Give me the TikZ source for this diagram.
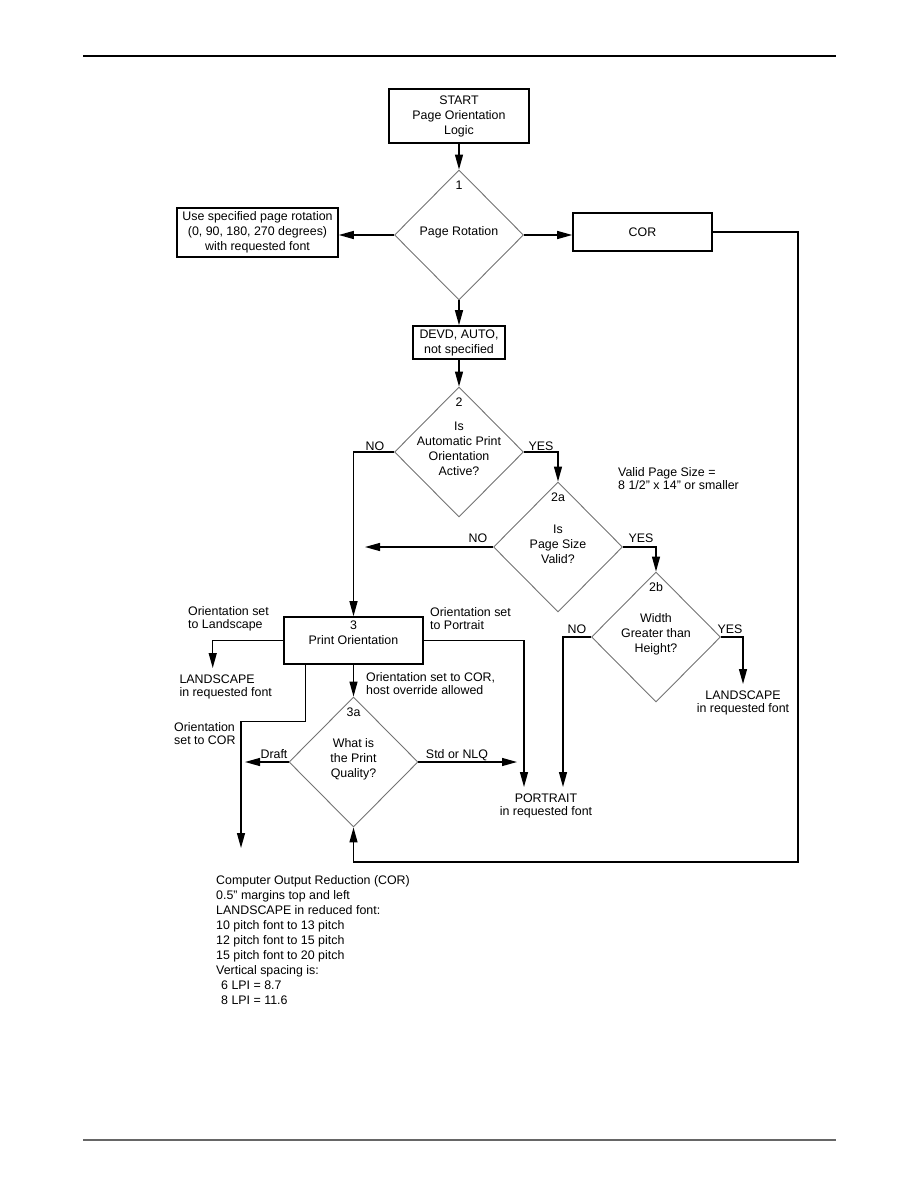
\documentclass[tikz,border=0pt]{standalone}
\usepackage{fontspec}
\setmainfont{Liberation Sans}
\usetikzlibrary{arrows.meta,positioning,shapes.geometric}

\begin{document}
\begin{tikzpicture}[
    x=1pt, y=1pt,
    font=\fontsize{12.4}{15}\selectfont,
    box/.style={draw, line width=1.6pt, align=center, inner sep=2pt},
    decision/.style={draw=black!55, line width=0.9pt, shape=diamond,
                     minimum width=129pt, minimum height=130pt, inner sep=0pt},
    dtext/.style={align=center, inner sep=1pt},
    lbl/.style={align=left, font=\fontsize{12.4}{13}\selectfont, inner sep=1pt},
    result/.style={align=center, font=\fontsize{12.4}{13}\selectfont,
                   inner ysep=7pt},
    arrow/.style={-{Triangle[length=15pt,width=8pt]}, line width=1.3pt}
  ]

  \useasboundingbox (0,0) rectangle (918,-1188);

  % page rules
  \draw[line width=1.6pt] (83,-56) -- (836,-56);
  \draw[line width=1.6pt, black!60] (83,-1140) -- (836,-1140);

  % boxes and decisions
  \node[box, minimum width=140pt, minimum height=54pt] (start) at (459,-116) {START\\Page Orientation\\Logic};
  \node[decision] (d1) at (459,-235) {};
  \node[box, minimum width=161pt, minimum height=49pt] (fixed) at (257.5,-232.5) {Use specified page rotation\\(0, 90, 180, 270 degrees)\\with requested font};
  \node[box, minimum width=139pt, minimum height=38pt] (cor) at (642.5,-232) {COR};
  \node[box, minimum width=92pt, minimum height=33pt] (devd) at (459,-342.5) {DEVD, AUTO,\\not specified};
  \node[decision] (d2) at (459,-452) {};
  \node[decision] (d2a) at (558,-547) {};
  \node[decision] (d2b) at (656,-637) {};
  \node[box, minimum width=139pt, minimum height=47pt] (po) at (353.5,-640.5) {};
  \node[decision] (d3a) at (353.5,-762) {};

  % texts inside
  \node[dtext] (n1) at ([yshift=-16pt]d1.north) {1};
  \node[dtext] (t1) at ([yshift=3pt]d1.center) {Page Rotation};
  \node[dtext] (n2) at ([yshift=-16pt]d2.north) {2};
  \node[dtext] (t2) at ([yshift=3pt]d2.center) {Is\\Automatic Print\\Orientation\\Active?};
  \node[dtext] (n2a) at ([yshift=-16pt]d2a.north) {2a};
  \node[dtext] (t2a) at ([yshift=3pt]d2a.center) {Is\\Page Size\\Valid?};
  \node[dtext] (n2b) at ([yshift=-16pt]d2b.north) {2b};
  \node[dtext] (t2b) at ([yshift=3pt]d2b.center) {Width\\Greater than\\Height?};
  \node[dtext] (n3a) at ([yshift=-16pt]d3a.north) {3a};
  \node[dtext] (t3a) at ([yshift=3pt]d3a.center) {What is\\the Print\\Quality?};
  \node[dtext] (tpo) at ([yshift=-17pt]po.north) {3\\Print Orientation};

  % outcomes
  \node[result, align=left, anchor=north west] (land1) at (176,-668) {LANDSCAPE\\in requested font};
  \node[result, anchor=north] (land2) at (743,-684) {LANDSCAPE\\in requested font};
  \node[result, anchor=north] (portrait) at (546,-787) {PORTRAIT\\in requested font};
  \node[lbl, anchor=north west, font=\fontsize{12.4}{15}\selectfont] (cornote) at (215,-874) {Computer Output Reduction (COR)\\0.5” margins top and left\\LANDSCAPE in reduced font:\\10 pitch font to 13 pitch\\12 pitch font to 15 pitch\\15 pitch font to 20 pitch\\Vertical spacing is:\\\hspace*{5pt}6 LPI = 8.7\\\hspace*{5pt}8 LPI = 11.6};

  % labels
  \node[lbl] (no2) at (375,-446) {NO};
  \node[lbl] (yes2) at (541,-446) {YES};
  \node[lbl] (no2a) at (478,-538) {NO};
  \node[lbl] (yes2a) at (641,-538) {YES};
  \node[lbl] (no2b) at (577,-629) {NO};
  \node[lbl] (yes2b) at (730,-629) {YES};
  \node[lbl, anchor=west] (validnote) at (617,-479) {Valid Page Size =\\8 1/2” x 14” or smaller};
  \node[lbl, anchor=west] (toland) at (187,-619) {Orientation set\\to Landscape};
  \node[lbl, anchor=west] (toport) at (429,-619) {Orientation set\\to Portrait};
  \node[lbl, anchor=west] (tocor) at (365,-684) {Orientation set to COR,\\host override allowed};
  \node[lbl, anchor=west] (setcor) at (173,-734) {Orientation\\set to COR};
  \node[lbl] (draft) at (274,-754) {Draft};
  \node[lbl] (std) at (457,-755) {Std or NLQ};

  % free ends
  \coordinate (noend) at (365,-547);
  \coordinate (corend) at (241,-848);
  \coordinate (draftend) at (245,-762);
  \coordinate (stdend) at (517,-762);
  \coordinate (loop) at (798,-862);

  % connectors
  \draw[arrow] (start) -- (d1);
  \draw[arrow] (d1.west) -- (d1.west -| fixed.east);
  \draw[arrow] (d1.east) -- (d1.east -| cor.west);
  \draw[arrow] (d1) -- (devd);
  \draw[arrow] (devd) -- (d2);
  \draw[arrow] (d2.west) -| (po.north);
  \draw[arrow] (d2.east) -| (d2a.north);
  \draw[arrow] (d2a.west) -- (noend);
  \draw[arrow] (d2a.east) -| (d2b.north);
  \draw[arrow] (d2b.west) -| ([xshift=17pt]portrait.north);
  \draw[arrow] (d2b.east) -| (land2.north);
  \draw[arrow] (po.east) -| ([xshift=-22pt]portrait.north);
  \draw[arrow] (po.west) -| ([xshift=-13pt]land1.north);
  \draw[arrow] (po) -- (d3a);
  \draw[arrow] ([xshift=-48pt]po.south) -- ++(0,-56.5) -| (corend);
  \draw[arrow] (d3a.west) -- (draftend);
  \draw[arrow] (d3a.east) -- (stdend);
  \draw[arrow] (cor.east) -| (loop) -| (d3a.south);

\end{tikzpicture}
\end{document}
